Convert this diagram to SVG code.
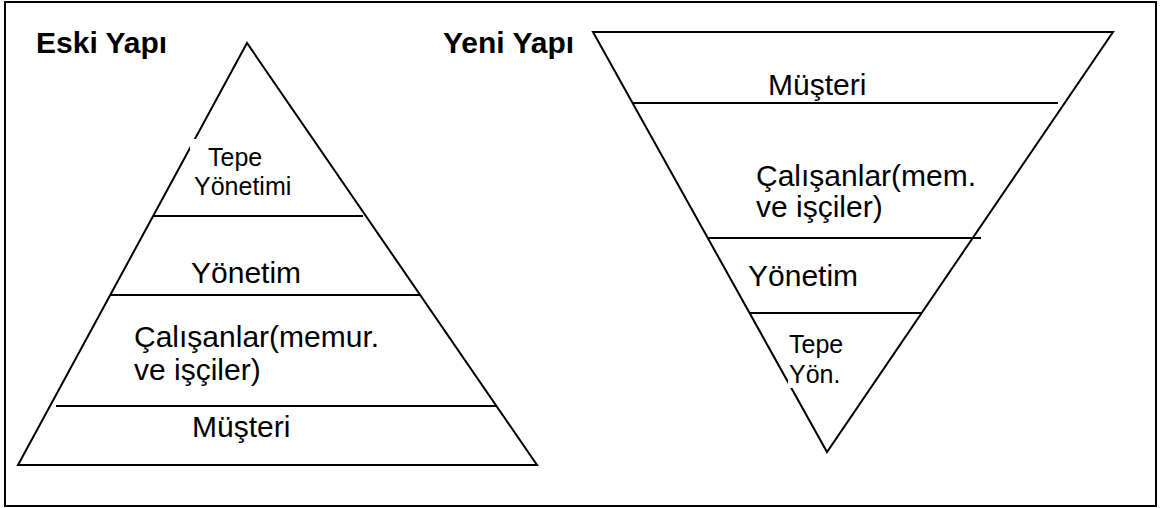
<svg xmlns="http://www.w3.org/2000/svg" width="1161" height="508" viewBox="0 0 1161 508">
  <style>
    .edge { fill: none; stroke: #000; stroke-width: 2; stroke-linejoin: miter; }
    .tier { stroke: #000; stroke-width: 1.8; }
    .lbl { font-family: "Liberation Sans", Arial, sans-serif; font-size: 30px; fill: #000; }
    .sm { font-size: 25px; }
    .ttl { font-family: "Liberation Sans", Arial, sans-serif; font-size: 30px; font-weight: bold; fill: #000; }
    .knock { fill: #fff; }
  </style>

  <rect x="0" y="0" width="1161" height="508" fill="#fff"/>

  <!-- outer frame -->
  <rect id="frame" x="5" y="2" width="1151" height="504" fill="none" stroke="#000" stroke-width="2"/>

  <!-- titles -->
  <g id="title-old"><text class="ttl" x="36" y="53">Eski Yapı</text></g>
  <g id="title-new"><text class="ttl" x="443" y="53">Yeni Yapı</text></g>

  <!-- outlines and tier dividers -->
  <g id="connectors">
    <polygon class="edge" points="247,43 18,465 537,465"/>
    <line class="tier" x1="153" y1="216" x2="363" y2="216"/>
    <line class="tier" x1="110" y1="295" x2="420" y2="295"/>
    <line class="tier" x1="56" y1="406" x2="496" y2="406"/>

    <polygon class="edge" points="593,32 1113,32 827,452"/>
    <line class="tier" x1="633" y1="103" x2="1058" y2="103"/>
    <line class="tier" x1="708" y1="238" x2="981" y2="238"/>
    <line class="tier" x1="750" y1="313" x2="922" y2="313"/>
  </g>

  <!-- old structure: top management at the apex -->
  <g id="old-top">
    <rect class="knock" x="190" y="139" width="105" height="62"/>
    <text class="lbl sm" x="208" y="166">Tepe</text>
    <text class="lbl sm" x="194" y="195">Yönetimi</text>
  </g>
  <g id="old-management">
    <text class="lbl" x="191" y="283">Yönetim</text>
  </g>
  <g id="old-employees">
    <text class="lbl" x="134" y="347">Çalışanlar(memur.</text>
    <text class="lbl" x="134" y="380">ve işçiler)</text>
  </g>
  <g id="old-customer">
    <text class="lbl" x="192" y="437">Müşteri</text>
  </g>

  <!-- new structure: customer on top -->
  <g id="new-customer">
    <text class="lbl" x="768" y="95">Müşteri</text>
  </g>
  <g id="new-employees">
    <text class="lbl" x="756" y="186">Çalışanlar(mem.</text>
    <text class="lbl" x="756" y="217">ve işçiler)</text>
  </g>
  <g id="new-management">
    <text class="lbl" x="748" y="286">Yönetim</text>
  </g>
  <g id="new-top">
    <rect class="knock" x="788" y="330" width="60" height="58"/>
    <text class="lbl sm" x="789" y="353">Tepe</text>
    <text class="lbl sm" x="789" y="383">Yön.</text>
  </g>
</svg>
